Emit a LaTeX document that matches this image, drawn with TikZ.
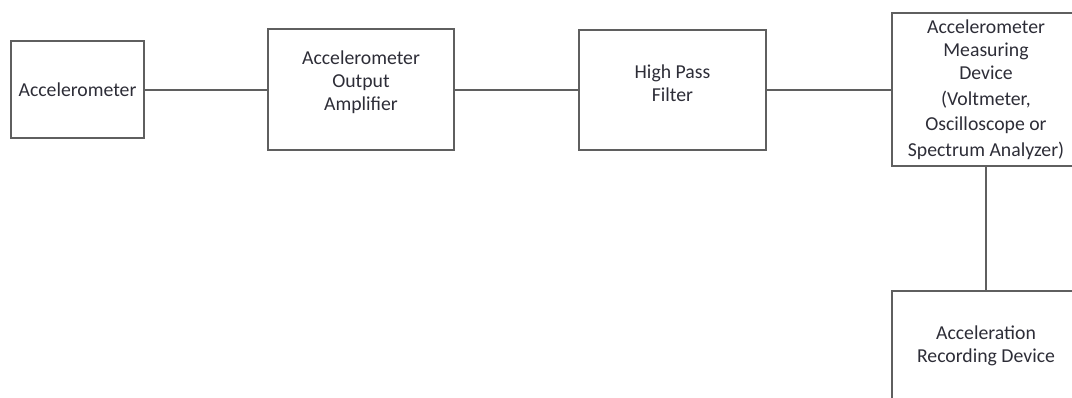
\documentclass[tikz,border=0pt]{standalone}
\usepackage{fontspec}
\setmainfont{Carlito}
\usetikzlibrary{positioning}

\begin{document}
\begin{tikzpicture}[x=0.75pt,y=-0.75pt,
    block/.style={draw=linegray,line width=1.5pt},
    caption/.style={text=textgray,align=center,font=\fontsize{14.8}{17.4}\selectfont},
    wire/.style={draw=linegray,line width=1.5pt}]
    \definecolor{linegray}{RGB}{95,95,95}
    \definecolor{textgray}{RGB}{45,45,55}

    \useasboundingbox (0,0) rectangle (1072,397);
    \clip (0,0) rectangle (1072,397);

    \node[block,caption,minimum width=99.75pt,minimum height=72.75pt] (acc) at (77.5,89.5) {Accelerometer};
    \node[block,minimum width=139.5pt,minimum height=90.75pt,
      label={[caption,yshift=5.5pt]center:Accelerometer\\Output\\Amplifier}] (amp) at (361,89.5) {};
    \node[block,minimum width=140.25pt,minimum height=90pt,
      label={[caption,yshift=4.5pt]center:High Pass\\Filter}] (hpf) at (672.5,89.5) {};
    \node[block,caption,minimum width=141pt,minimum height=114.75pt] (meas) at (986,89.5)
      {Accelerometer\\Measuring\\Device\\[1.8pt](Voltmeter,\\[1.8pt]Oscilloscope or\\[1.8pt]Spectrum Analyzer)};
    \node[block,minimum width=141pt,minimum height=91.5pt,
      label={[caption,yshift=4.5pt]center:Acceleration\\Recording Device}] (rec) at (986,352) {};

    \draw[wire] (acc) -- (amp);
    \draw[wire] (amp) -- (hpf);
    \draw[wire] (hpf) -- (meas);
    \draw[wire] (meas) -- (rec);
  \end{tikzpicture}
\end{document}
